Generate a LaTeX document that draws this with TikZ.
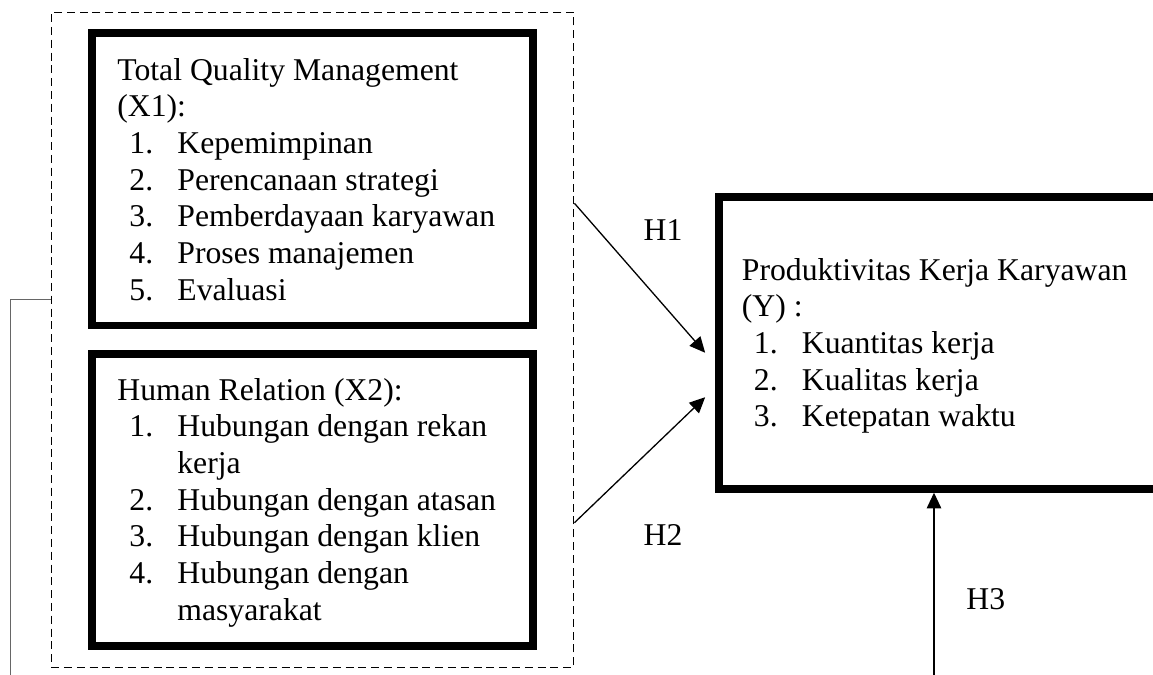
\documentclass[tikz,border=0pt]{standalone}
\usepackage{fontspec}
\setmainfont{Liberation Serif}
\usetikzlibrary{positioning,arrows.meta,fit}
\newcommand{\itm}[2]{\hspace*{6pt}\makebox[24pt][l]{#1}#2}
\newcommand{\cont}[1]{\hspace*{30pt}#1}

\begin{document}
\begin{tikzpicture}[x=0.5pt,y=-0.5pt,
  var/.style={draw,line width=3.85pt,minimum width=220.5pt,minimum height=146.1pt,inner sep=0pt},
  txt/.style={anchor=base west,inner sep=0pt,font=\fontsize{15.85pt}{18.35pt}\selectfont},
  grp/.style={draw,line width=0.6pt,dash pattern=on 4pt off 2.4pt,inner xsep=18.5pt,inner ysep=8.6pt},
  arr/.style={-{Triangle[length=7.8pt,width=7.2pt]},line width=0.65pt},
  link/.style={draw=black!60,line width=0.7pt},
  lbl/.style={anchor=base west,inner sep=0pt,font=\fontsize{15.85pt}{18.35pt}\selectfont}]
  \useasboundingbox (0,0) rectangle (1153,675);
  % variable boxes
  \node[var] (x1) at (312.5,179.4) {};
  \node[var] (x2) at (312.5,500.2) {};
  \node[var] (yv) at (939.5,342.75) {};
  \node[grp,fit=(x1)(x2)] (xgrp) {};
  % box texts
  \node[txt] (x1t) at (117,80) {\begin{tabular}[t]{@{}l@{}}
    Total Quality Management\\
    (X1):\\
    \itm{1.}{Kepemimpinan}\\
    \itm{2.}{Perencanaan strategi}\\
    \itm{3.}{Pemberdayaan karyawan}\\
    \itm{4.}{Proses manajemen}\\
    \itm{5.}{Evaluasi}
  \end{tabular}};
  \node[txt] (x2t) at (117,400) {\begin{tabular}[t]{@{}l@{}}
    Human Relation (X2):\\
    \itm{1.}{Hubungan dengan rekan}\\
    \cont{kerja}\\
    \itm{2.}{Hubungan dengan atasan}\\
    \itm{3.}{Hubungan dengan klien}\\
    \itm{4.}{Hubungan dengan}\\
    \cont{masyarakat}
  \end{tabular}};
  \node[txt] (yt) at (741.5,280) {\begin{tabular}[t]{@{}l@{}}
    Produktivitas Kerja Karyawan\\
    (Y) :\\
    \itm{1.}{Kuantitas kerja}\\
    \itm{2.}{Kualitas kerja}\\
    \itm{3.}{Ketepatan waktu}
  \end{tabular}};
  % hypotheses
  \coordinate (lfoot) at (10.5,676);
  \coordinate (hfoot) at (934,676);
  \draw[link] (lfoot) |- ([shift={(0,-40.5)}]xgrp.west);
  \draw[arr] ([shift={(0,-136.5)}]xgrp.east) -- ([shift={(-10,10)}]yv.west);
  \draw[arr] ([shift={(0,182.9)}]xgrp.east) -- ([shift={(-10,54.5)}]yv.west);
  \draw[arr] (hfoot) -- (hfoot |- yv.south);
  \node[lbl] (h1) at (643.3,240.7) {H1};
  \node[lbl] (h2) at (643.3,545) {H2};
  \node[lbl] (h3) at (966,609.3) {H3};
\end{tikzpicture}
\end{document}
